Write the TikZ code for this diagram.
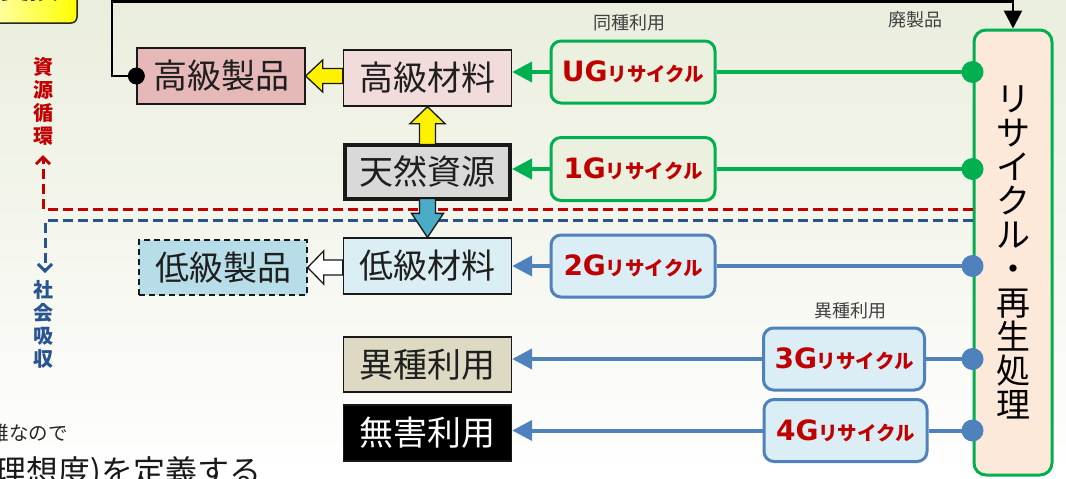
\documentclass[tikz,border=0pt]{standalone}
\usepackage{fontspec}
\newfontfamily\jp{Noto Sans CJK JP}
\newfontfamily\dvb{DejaVu Sans}
\usetikzlibrary{arrows.meta,calc}
\definecolor{bgtop}{HTML}{EAEEDD}
\definecolor{hpfill}{HTML}{E6B9B8}
\definecolor{hmfill}{HTML}{F2DCDB}
\definecolor{nrfill}{HTML}{D9D9D9}
\definecolor{lmfill}{HTML}{DAEEF3}
\definecolor{lpfill}{HTML}{B7DEE8}
\definecolor{iufill}{HTML}{DDD9C3}
\definecolor{ggreen}{HTML}{00B050}
\definecolor{gbfill}{HTML}{EBF1DE}
\definecolor{bblue}{HTML}{4F81BD}
\definecolor{bbfill}{HTML}{DBEEF5}
\definecolor{bigfill}{HTML}{FDE9D9}
\definecolor{rred}{HTML}{C00000}
\definecolor{dblue}{HTML}{2A5490}
\definecolor{lblgray}{HTML}{404040}
\definecolor{barrow}{HTML}{4BACC6}
\begin{document}
\begin{tikzpicture}[x=1pt,y=-1pt,
  box/.style={draw=black!90, line width=1.3, inner sep=0, text=black!88,
    font=\jp\fontsize{34}{34}\selectfont, minimum width=168, minimum height=56},
  rbox/.style={rounded corners=10, line width=3, inner sep=0,
    minimum width=164, minimum height=62, text=rred},
  gline/.style={draw=ggreen, line width=4},
  bline/.style={draw=bblue, line width=4},
  gtip/.style={-{Triangle[length=20pt,width=20pt]}},
  lbl/.style={font=\jp\fontsize{18}{18}\selectfont, text=lblgray, inner sep=0},
  vlbl/.style={font=\jp\bfseries\fontsize{20}{23}\selectfont, align=center, inner sep=0},
  blk/.style={draw=black!90, line width=1.3, line join=miter},
  dsh/.style={line width=3, dash pattern=on 10pt off 5pt}
]
\useasboundingbox (0,0) rectangle (1066,479);
\clip (0,0) rectangle (1066,479);
\fill[top color=bgtop, bottom color=white] (0,0) rectangle (1066,479);

% recycle titles
\newcommand{\rc}[1]{{\dvb\bfseries\fontsize{28}{28}\selectfont #1}{\jp\bfseries\fontsize{19.5}{19.5}\selectfont リサイクル}}

% top-left yellow box
\node[draw=black!85, line width=1.5, rounded corners=6, left color=yellow!25, right color=yellow,
  minimum width=94, minimum height=72, inner sep=0, font=\jp\bfseries\fontsize{30}{30}\selectfont]
  (yb) at (30,-13) {変換};

% nodes
\node[box, fill=hpfill] (hp) at (221,76) {高級製品};
\node[box, fill=hmfill] (hm) at (427.5,78) {高級材料};
\node[box, fill=nrfill, line width=4, minimum width=165, minimum height=54] (nr) at (427.5,171.5) {天然資源};
\node[box, fill=lmfill] (lm) at (427.5,266) {低級材料};
\node[box, fill=lpfill, dash pattern=on 6pt off 4pt, minimum height=55] (lp) at (223,267.5) {低級製品};
\node[box, fill=iufill, minimum height=55] (iu) at (427.5,364.5) {異種利用};
\node[box, fill=black, text=white] (mu) at (427.5,433) {無害利用};

\node[rbox, draw=ggreen, fill=gbfill] (ug) at (633,72) {\rc{UG}};
\node[rbox, draw=ggreen, fill=gbfill, minimum height=63] (g1) at (633,169) {\rc{1G}};
\node[rbox, draw=bblue, fill=bbfill] (g2) at (633,266) {\rc{2G}};
\node[rbox, draw=bblue, fill=bbfill, minimum width=161] (g3) at (844,359) {\rc{3G}};
\node[rbox, draw=bblue, fill=bbfill, minimum width=163] (g4) at (845.5,430.5) {\rc{4G}};

\node[draw=ggreen, line width=3, fill=bigfill, rounded corners=12, minimum width=78, minimum height=445,
  inner sep=0, align=center, font=\jp\fontsize{34}{34}\selectfont] (big) at (1013,252.5)
  {リ\\サ\\イ\\ク\\ル\\・\\再\\生\\処\\理};

% dashed lines
\coordinate (rtop) at (43,155);
\coordinate (btop) at (45,273);
\draw[dsh, draw=rred, -{Straight Barb[length=7pt,width=14pt]}] ([yshift=43.5pt]big.west) -| (rtop);
\draw[dsh, draw=dblue, -{Straight Barb[length=7pt,width=14pt]}] ([yshift=32.5pt]big.west) -| (btop);

% block arrows
\filldraw[blk, fill=yellow] (hp.east) -- ([xshift=17pt,yshift=16pt]hp.east) -- ([xshift=17pt,yshift=7.5pt]hp.east)
  -- ([yshift=7.5pt]hp.east -| hm.west) -- ([yshift=-7.5pt]hp.east -| hm.west)
  -- ([xshift=17pt,yshift=-7.5pt]hp.east) -- ([xshift=17pt,yshift=-16pt]hp.east) -- cycle;
\filldraw[blk, fill=white] (lp.east) -- ([xshift=16pt,yshift=16.5pt]lp.east) -- ([xshift=16pt,yshift=7.5pt]lp.east)
  -- ([yshift=7.5pt]lp.east -| lm.west) -- ([yshift=-7.5pt]lp.east -| lm.west)
  -- ([xshift=16pt,yshift=-7.5pt]lp.east) -- ([xshift=16pt,yshift=-16.5pt]lp.east) -- cycle;
\filldraw[blk, fill=yellow] (hm.south) -- ([xshift=17.5pt,yshift=-17pt]hm.south) -- ([xshift=8pt,yshift=-17pt]hm.south)
  -- ([xshift=8pt,yshift=-2pt]nr.north) -- ([xshift=-8pt,yshift=-2pt]nr.north)
  -- ([xshift=-8pt,yshift=-17pt]hm.south) -- ([xshift=-17.5pt,yshift=-17pt]hm.south) -- cycle;
\filldraw[blk, fill=barrow] (lm.north) -- ([xshift=16pt,yshift=24pt]lm.north) -- ([xshift=8pt,yshift=24pt]lm.north)
  -- ([xshift=8pt,yshift=2pt]nr.south) -- ([xshift=-8pt,yshift=2pt]nr.south)
  -- ([xshift=-8pt,yshift=24pt]lm.north) -- ([xshift=-16pt,yshift=24pt]lm.north) -- cycle;

% black return line
\coordinate (tl) at (112,1.5);
\draw[line width=2.5, -{Triangle[length=18pt,width=18pt]}] (hp.west) -| (tl) -| (big.north);
\fill (hp.west) circle (8.5);

% recycle connectors
\draw[gline] (ug.east) -- (ug.east -| big.west);
\draw[gline, gtip] (ug.west) -- (ug.west -| hm.east);
\draw[gline] (g1.east) -- (g1.east -| big.west);
\draw[gline, gtip] (g1.west) -- (g1.west -| nr.east);
\draw[bline] (g2.east) -- (g2.east -| big.west);
\draw[bline, gtip] (g2.west) -- (g2.west -| lm.east);
\draw[bline] (g3.east) -- (g3.east -| big.west);
\draw[bline, gtip] (g3.west) -- (g3.west -| iu.east);
\draw[bline] (g4.east) -- (g4.east -| big.west);
\draw[bline, gtip] (g4.west) -- (g4.west -| mu.east);
\fill[ggreen] (ug.east -| big.west) circle (11);
\fill[ggreen] (g1.east -| big.west) circle (11);
\fill[bblue] (g2.east -| big.west) circle (11);
\fill[bblue] (g3.east -| big.west) circle (11);
\fill[bblue] (g4.east -| big.west) circle (11);

% labels
\node[lbl] (l1) at (629,23) {同種利用};
\node[lbl] (l2) at (915,20) {廃製品};
\node[lbl] (l3) at (850,311) {異種利用};
\node[vlbl, text=rred] (v1) at (43,101) {資\\源\\循\\環};
\node[vlbl, text=dblue] (v2) at (43,324) {社\\会\\吸\\収};

% bottom-left text fragments
\node[inner sep=0, anchor=east, text=black!85, font=\jp\fontsize{19.5}{19.5}\selectfont] (t1) at (68,433) {雑なので};
\node[inner sep=0, anchor=east, text=black!90, font=\jp\fontsize{32}{32}\selectfont] (t2) at (262,473) {(理想度)を定義する};
\end{tikzpicture}
\end{document}
